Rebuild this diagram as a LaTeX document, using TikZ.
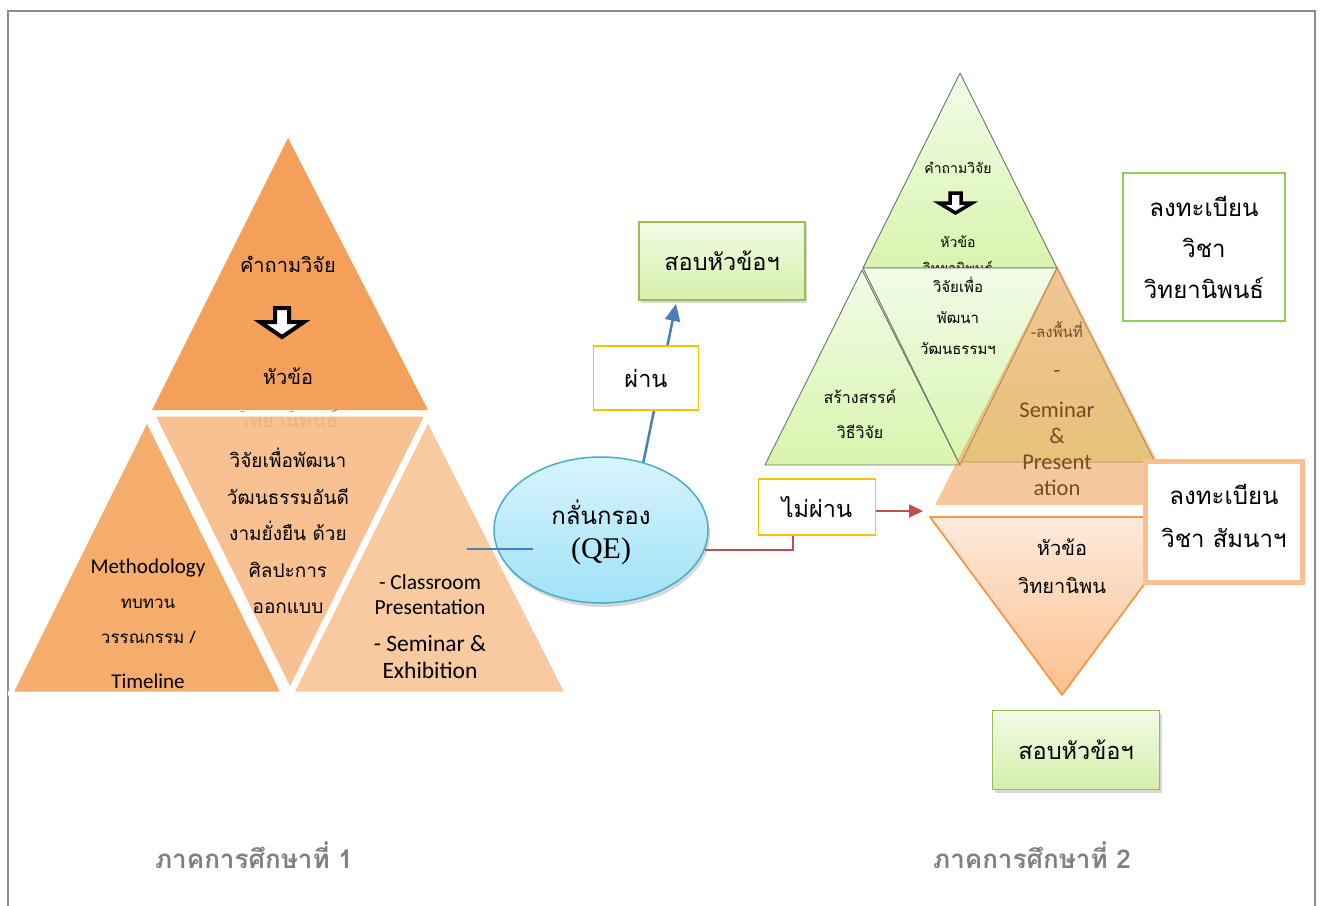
\documentclass[tikz,border=0pt]{standalone}
\usepackage{fontspec}
\setmainfont{Carlito}
\newfontfamily\thai[Script=Thai]{Loma}
\newfontfamily\qefont{Liberation Serif}
\usetikzlibrary{shapes.geometric,arrows.meta,shadows}
\definecolor{frameG}{HTML}{8C8C8C}
\definecolor{orA}{HTML}{F5A05A}
\definecolor{orB}{HTML}{F8BB87}
\definecolor{orC}{HTML}{F5AD6E}
\definecolor{orD}{HTML}{F9C9A0}
\definecolor{qeTop}{HTML}{D8F4FC}
\definecolor{qeBot}{HTML}{A0E2F7}
\definecolor{qeLine}{HTML}{4BACC6}
\definecolor{blueL}{HTML}{4A7EBB}
\definecolor{redL}{HTML}{C0504D}
\definecolor{yelB}{HTML}{FFC000}
\definecolor{grTop}{HTML}{F2FAE6}
\definecolor{grBot}{HTML}{D5EFAA}
\definecolor{grLine}{HTML}{9BBB59}
\definecolor{triTop}{HTML}{F2FBE8}
\definecolor{triBot}{HTML}{D8F5AE}
\definecolor{triLine}{HTML}{6B7560}
\definecolor{tanF}{HTML}{F29A50}
\definecolor{brownT}{HTML}{7A4A20}
\definecolor{peachTop}{HTML}{FDEADB}
\definecolor{peachBot}{HTML}{FBC08E}
\definecolor{peachLine}{HTML}{F79646}
\definecolor{peachBox}{HTML}{FAC090}
\definecolor{lime}{HTML}{92D050}
\definecolor{grayT}{HTML}{808080}
\tikzset{
  gap/.style={draw=white,line width=5pt,line join=round},
  greenbox/.style={draw=grLine,line width=1.8pt,top color=grTop,bottom color=grBot,
     minimum width=166pt,minimum height=78pt,font=\thai\fontsize{23.5}{26}\selectfont,
     drop shadow={shadow xshift=2pt,shadow yshift=-3pt,opacity=0.3}},
  yelbox/.style={draw=yelB,line width=1.8pt,fill=white,font=\thai\fontsize{23.5}{26}\selectfont},
  gtri/.style={draw=triLine,line width=0.9pt,top color=triTop,bottom color=triBot,line join=round},
  thaiM/.style={font=\thai\fontsize{19}{36.5}\selectfont,align=center},
  blockarrow/.style={draw=black,fill=white,line join=miter},
}
\begin{document}
\begin{tikzpicture}[x=1pt,y=-1pt]
\useasboundingbox (0,0) rectangle (1324,905);
\fill[white] (0,0) rectangle (1324,905);
% frame
\draw[frameG,line width=2.5pt] (8,906) -- (8,11) -- (1315,11) -- (1315,906);

% ---------- left orange pyramid ----------
\fill[orA] (288,138) -- (152,410) -- (428,410) -- cycle;
\node[font=\thai\fontsize{20}{22}\selectfont] (lq) at (288,264) {คำถามวิจัย};
\draw[blockarrow,line width=4pt] (275,308) -- (289,308) -- (289,322) -- (304,322) -- (282,337) -- (260,322) -- (275,322) -- cycle;
\node[font=\thai\fontsize{20}{22}\selectfont] (lt) at (288,376) {หัวข้อ};
\node[font=\thai\fontsize{20}{22}\selectfont,text=black!55] (lt2) at (288,419) {วิทยานิพนธ์};
\filldraw[orB,fill opacity=0.9,gap] (152,414) -- (428,414) -- (290,692) -- cycle;
\filldraw[orC,gap] (147,418) -- (10,694) -- (284,694) -- cycle;
\filldraw[orD,gap] (428,418) -- (291,694) -- (568,694) -- cycle;
\node[thaiM] (lmid) at (288,531) {วิจัยเพื่อพัฒนา\\วัฒนธรรมอันดี\\งามยั่งยืน ด้วย\\ศิลปะการ\\ออกแบบ};
\node[font=\fontsize{21}{24}\selectfont] (lmeth) at (148,568) {Methodology};
\node[font=\thai\fontsize{17}{35}\selectfont,align=center] (lrev) at (148,621) {ทบทวน\\วรรณกรรม /};
\node[font=\fontsize{21}{24}\selectfont] (ltime) at (148,681) {Timeline};
\node[font=\fontsize{21.5}{25}\selectfont,align=center] (lcls) at (430,595) {- Classroom\\Presentation};
\node[font=\fontsize{23.5}{27}\selectfont,align=center] (lsem) at (430,657) {- Seminar \&\\Exhibition};

% ---------- QE ellipse ----------
\node[ellipse,draw=qeLine,line width=1.5pt,top color=qeTop,bottom color=qeBot,
      minimum width=214pt,minimum height=146pt,
      drop shadow={shadow xshift=2pt,shadow yshift=-4pt,opacity=0.3}] (qe) at (601,530) {};
\node[font=\thai\fontsize{24}{26}\selectfont] (qet) at (601,512) {กลั่นกรอง};
\node[font=\qefont\fontsize{30}{32}\selectfont] (qee) at (601,551) {(QE)};
\coordinate (bl1) at (467,549);
\coordinate (bl2) at (533,549);
\draw[blueL,line width=1.5pt] (bl1) -- (bl2);

% top exam box
\node[greenbox] (exam1) at (722,261) {สอบหัวข้อฯ};
\draw[blueL,line width=2.5pt,-{Triangle[length=17pt,width=15pt]}] (qe.58) -- ([xshift=-46pt,yshift=-3pt]exam1.south);
\node[yelbox,minimum width=105pt,minimum height=64pt] (pass) at (646,378) {ผ่าน};

% fail
\node[yelbox,minimum width=117pt,minimum height=56pt] (fail) at (817,507) {ไม่ผ่าน};
\draw[redL,line width=2pt] (qe.-11) -| ([xshift=-24pt]fail.south);
\coordinate (redend) at (923,511);
\draw[redL,line width=2pt,-{Triangle[length=14pt,width=13pt]}] (fail.east |- redend) -- (redend);

% ---------- right green pyramid ----------
\shade[gtri] (960,73) -- (863,268) -- (1057,268) -- cycle;
\node[font=\thai\fontsize{14}{16}\selectfont] (gq) at (958,168) {คำถามวิจัย};
\draw[blockarrow,line width=3.5pt] (950,193) -- (961,193) -- (961,203) -- (972,203) -- (955.5,213) -- (939,203) -- (950,203) -- cycle;
\node[font=\thai\fontsize{14}{16}\selectfont] (gt) at (958,242) {หัวข้อ};
\node[font=\thai\fontsize{14}{16}\selectfont] (gt2) at (958,267) {วิทยานิพนธ์};
\shade[gtri] (1057,268) -- (960,462) -- (1155,462) -- cycle;
\shade[gtri] (862,270) -- (765,465) -- (960,465) -- cycle;
\shade[gtri] (863,268) -- (1057,268) -- (960,465) -- cycle;
\node[font=\thai\fontsize{15}{31}\selectfont,align=center] (gmid) at (958,316) {วิจัยเพื่อ\\พัฒนา\\วัฒนธรรมฯ};
\node[font=\thai\fontsize{16}{35}\selectfont,align=center] (gleft) at (860,414) {สร้างสรรค์\\วิธีวิจัย};
% translucent orange triangle
\fill[tanF,fill opacity=0.55] (1057,266) -- (935,505) -- (1179,505) -- cycle;
\draw[tanF!70,line width=1pt,opacity=0.6] (1057,266) -- (1179,505);
\node[font=\thai\fontsize{15}{18}\selectfont,text=brownT] (gf1) at (1057,330) {-ลงพื้นที่};
\node[font=\fontsize{22}{24}\selectfont,text=brownT] (gf0) at (1057,374) {-};
\node[font=\fontsize{22.5}{26}\selectfont,text=brownT,align=center] (gf2) at (1057,449) {Seminar\\\&\\Present\\ation};

% inverted orange triangle
\shade[draw=peachLine,line width=1.8pt,top color=peachTop,bottom color=peachBot,line join=round]
   (930,517) -- (1194,517) -- (1062,695) -- cycle;
\node[font=\thai\fontsize{20}{38}\selectfont,align=center] (gth) at (1062,566) {หัวข้อ\\วิทยานิพน};

% register boxes
\node[draw=peachBox,line width=5pt,fill=white,minimum width=157pt,minimum height=121pt] (reg2) at (1224,522) {};
\node[font=\thai\fontsize{24}{43}\selectfont,align=center] (reg2t) at (1224,516) {ลงทะเบียน\\วิชา สัมนาฯ};
\node[draw=lime,line width=2pt,fill=white,minimum width=162pt,minimum height=148pt,
      font=\thai\fontsize{24}{41}\selectfont,align=center] (reg1) at (1204,247) {ลงทะเบียน\\วิชา\\วิทยานิพนธ์};

% bottom exam box
\node[greenbox,minimum width=167pt,minimum height=79pt] (exam2) at (1076,750) {สอบหัวข้อฯ};

% semester labels
\node[font=\thai\bfseries\fontsize{26}{28}\selectfont,text=grayT] (sem1) at (254,855) {ภาคการศึกษาที่ 1};
\node[font=\thai\bfseries\fontsize{26}{28}\selectfont,text=grayT] (sem2) at (1032,855) {ภาคการศึกษาที่ 2};
\end{tikzpicture}
\end{document}
